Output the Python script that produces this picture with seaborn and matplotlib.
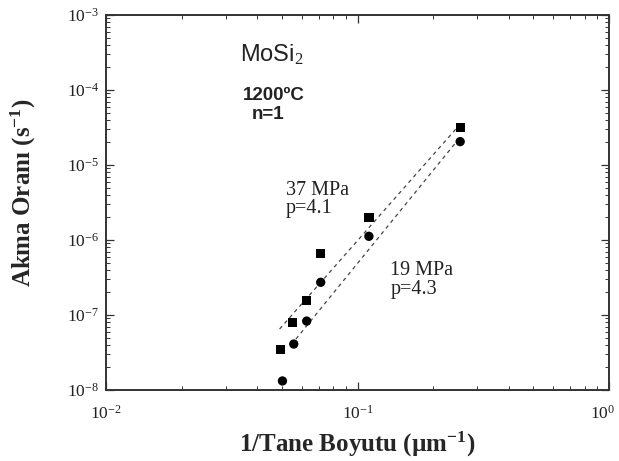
import numpy as np
import pandas as pd
import matplotlib
matplotlib.use("Agg")
import matplotlib.pyplot as plt
import matplotlib.transforms as mtransforms
import seaborn as sns
from matplotlib.ticker import LogLocator, NullFormatter, FixedLocator

# ---- data ----
x_37 = [0.0495, 0.0553, 0.0628, 0.0714, 0.111, 0.256]
y_37 = [3.5e-8, 8.0e-8, 1.57e-7, 6.6e-7, 2.0e-6, 3.15e-5]
x_19 = [0.0503, 0.0558, 0.0628, 0.0714, 0.111, 0.256]
y_19 = [1.32e-8, 4.1e-8, 8.3e-8, 2.73e-7, 1.12e-6, 2.05e-5]
fit37_x = [0.049, 0.252]
fit37_y = [6.5e-8, 3.3e-5]
fit19_x = [0.0545, 0.252]
fit19_y = [4.0e-8, 2.2e-5]
x_ticks = [1e-2, 1e-1, 1e0]
x_ticklabels = [r"$10^{-2}$", r"$10^{-1}$", r"$10^{0}$"]
y_ticks = [1e-8, 1e-7, 1e-6, 1e-5, 1e-4, 1e-3]
y_ticklabels = [r"$10^{-8}$", r"$10^{-7}$", r"$10^{-6}$", r"$10^{-5}$", r"$10^{-4}$", r"$10^{-3}$"]

sns.set_style("ticks")
plt.rcParams["font.family"] = ["Liberation Serif", "DejaVu Serif"]
plt.rcParams["mathtext.fontset"] = "custom"
plt.rcParams["mathtext.rm"] = "Liberation Serif"
plt.rcParams["mathtext.it"] = "Liberation Serif:italic"
plt.rcParams["mathtext.bf"] = "Liberation Serif:bold"

pts = pd.DataFrame({
    "x": x_37 + x_19,
    "y": y_37 + y_19,
    "grp": ["37 MPa"] * len(x_37) + ["19 MPa"] * len(x_19),
})
fits = pd.DataFrame({
    "x": fit37_x + fit19_x,
    "y": fit37_y + fit19_y,
    "grp": ["37 MPa"] * 2 + ["19 MPa"] * 2,
})

fig = plt.figure(figsize=(6.19, 4.61), dpi=100)
ax = fig.add_axes([106 / 619, (461 - 390) / 461, (609 - 106) / 619, (390 - 15) / 461])

for g in ["37 MPa", "19 MPa"]:
    sub = fits[fits.grp == g]
    sns.lineplot(data=sub, x="x", y="y", ax=ax, color="#444444", lw=0.9,
                 dashes=False, linestyle=(0, (3, 3)), legend=False, sort=False)

sns.scatterplot(data=pts, x="x", y="y", style="grp", markers={"37 MPa": "s", "19 MPa": "o"},
                color="black", s=45, edgecolor="black", linewidth=0, ax=ax, legend=False, zorder=3)

ax.set_xscale("log")
ax.set_yscale("log")
ax.set_xlim(1e-2, 1e0)
ax.set_ylim(1e-8, 1e-3)

ax.xaxis.set_major_locator(FixedLocator(x_ticks))
ax.set_xticklabels(x_ticklabels)
ax.yaxis.set_major_locator(FixedLocator(y_ticks))
ax.set_yticklabels(y_ticklabels)
ax.xaxis.set_minor_locator(LogLocator(base=10, subs=np.arange(2, 10)))
ax.yaxis.set_minor_locator(LogLocator(base=10, subs=np.arange(2, 10)))
ax.xaxis.set_minor_formatter(NullFormatter())
ax.yaxis.set_minor_formatter(NullFormatter())

ax.tick_params(which="both", direction="in", top=True, right=True, colors="#333333", labelcolor="#222222")
ax.tick_params(which="major", length=6, width=0.9, labelsize=12.5)
ax.tick_params(which="minor", length=3, width=0.7)
ax.tick_params(axis="x", which="major", pad=11)
ax.tick_params(axis="y", which="major", pad=5)
for sp in ax.spines.values():
    sp.set_linewidth(1.4)
    sp.set_color("#333333")

# nudge the 10^0 label so it stays inside the canvas
last = ax.get_xticklabels()[-1]
last.set_transform(last.get_transform() + mtransforms.ScaledTranslation(-6 / 100, 0, fig.dpi_scale_trans))

ax.set_xlabel(r"1/Tane Boyutu (µm$^{\mathbf{-1}}$)", fontsize=18, fontweight="bold", labelpad=5)
ax.set_ylabel(r"Akma Oranı (s$^{\mathbf{-1}}$)", fontsize=18, fontweight="bold")
ax.yaxis.set_label_coords(-0.135, 0.525)

sans = ["Liberation Sans", "DejaVu Sans"]
ax.text(0.266, 0.925, r"MoSi$_2$", transform=ax.transAxes, fontsize=17,
        family=sans, va="top", ha="left", color="#222222")
ax.text(0.272, 0.808, "1200ºC", transform=ax.transAxes, fontsize=13.5, fontweight="bold",
        family=sans, va="top", ha="left", color="#222222")
ax.text(0.29, 0.758, "n=1", transform=ax.transAxes, fontsize=13.5, fontweight="bold",
        family=sans, va="top", ha="left", color="#222222")
ax.text(0.358, 0.558, "37 MPa\np=4.1", transform=ax.transAxes, fontsize=14.5,
        va="top", ha="left", linespacing=0.95, color="#222222")
ax.text(0.565, 0.343, "19 MPa\np=4.3", transform=ax.transAxes, fontsize=14.5,
        va="top", ha="left", linespacing=0.95, color="#222222")

fig.savefig("out.png", dpi=100)
